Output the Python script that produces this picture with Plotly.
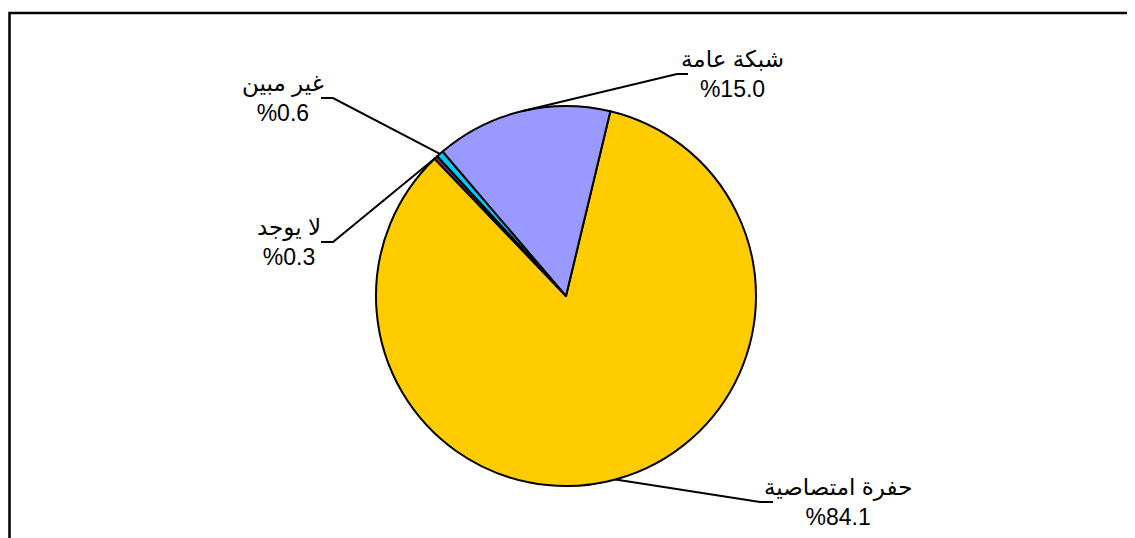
import math
import plotly.graph_objects as go

labels = ["حفرة امتصاصية", "لا يوجد", "غير مبين", "شبكة عامة"]
values = [84.1, 0.3, 0.6, 15.0]
pct_text = ["%84.1", "%0.3", "%0.6", "%15.0"]
colors = ["#FFCC00", "#993366", "#00CCFF", "#9999FF"]

W, H = 1135, 538
OFF_X, OFF_Y = 8, 7  # page offset compensation
CX, CY, R = 566, 295, 190
ROT = 13.5

# label layout (pixels): stub outer point (text side), stub inner point, text centre x
label_pos = [
    dict(stub_out=(773, 501), stub_in=(760, 501), tx=838),
    dict(stub_out=(321, 241), stub_in=(333, 241), tx=289),
    dict(stub_out=(321, 97), stub_in=(333, 97), tx=283),
    dict(stub_out=(688, 73), stub_in=(677, 73), tx=732),
]


def px(x):
    return (x - OFF_X) / W


def py(y):
    return 1 - (y - OFF_Y) / H


fig = go.Figure()
fig.add_trace(go.Pie(
    labels=labels,
    values=values,
    marker=dict(colors=colors, line=dict(color="black", width=2)),
    sort=False,
    direction="clockwise",
    rotation=ROT,
    textinfo="none",
    hoverinfo="label+percent",
    showlegend=False,
    domain=dict(x=[px(CX - R), px(CX + R)], y=[py(CY + R), py(CY - R)]),
))

shapes = []
annotations = []
total = sum(values)
cum = 0.0
for lab, v, pt, pos in zip(labels, values, pct_text, label_pos):
    mid = ROT + (cum + v / 2) / total * 360
    cum += v
    a = math.radians(mid)
    ex, ey = CX + R * math.sin(a), CY - R * math.cos(a)
    (ox, oy), (ix, iy) = pos["stub_out"], pos["stub_in"]
    shapes.append(dict(
        type="path", xref="paper", yref="paper",
        path=f"M {px(ox)} {py(oy)} L {px(ix)} {py(iy)} L {px(ex)} {py(ey)}",
        line=dict(color="black", width=2),
    ))
    annotations.append(dict(
        x=px(pos["tx"]), y=py(oy), xref="paper", yref="paper",
        text=f"{lab}<br>{pt}", showarrow=False,
        xanchor="center", yanchor="middle", align="center",
        font=dict(family="Liberation Sans, Arial, DejaVu Sans", size=23, color="black"),
    ))

# outer frame
shapes.append(dict(
    type="rect", xref="paper", yref="paper",
    x0=px(9.5), x1=px(1150), y0=py(12), y1=py(560),
    line=dict(color="black", width=2.5), fillcolor="rgba(0,0,0,0)",
))

fig.update_layout(
    width=W, height=H,
    margin=dict(l=0, r=0, t=0, b=0),
    paper_bgcolor="white", plot_bgcolor="white",
    shapes=shapes, annotations=annotations,
)

fig.write_html("out.html")
